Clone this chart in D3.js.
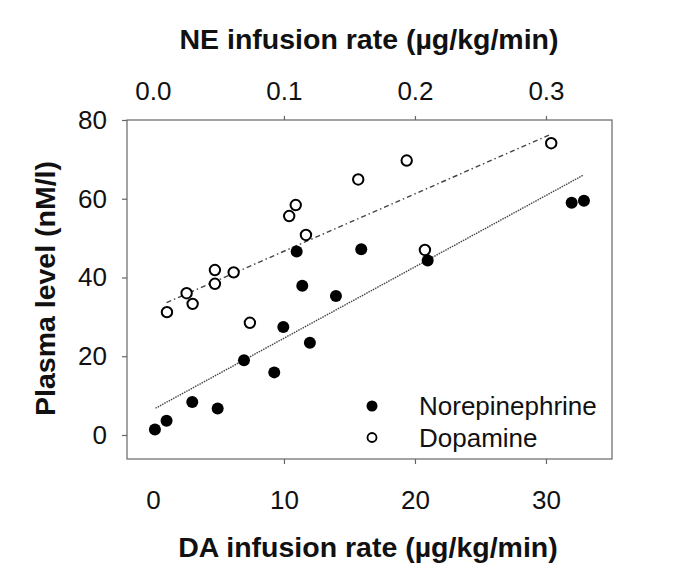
<!DOCTYPE html>
<html>
<head>
<meta charset="utf-8">
<script src="https://cdn.jsdelivr.net/npm/d3@7"></script>
<style>
  html, body { margin: 0; padding: 0; background: #fff; }
  svg { display: block; }
  text { font-family: "Liberation Sans", Arial, sans-serif; fill: #111; }
</style>
</head>
<body>
<svg id="chart" width="685" height="583"></svg>
<script>
// ---- data ----
const neRate = [0.15, 1.04, 3.0, 4.94, 6.95, 9.26, 9.95, 11.98, 11.4, 13.97, 10.97, 15.9, 20.97, 31.96, 32.9];
const neLevel = [1.4, 3.6, 8.4, 6.7, 19.0, 15.9, 27.4, 23.4, 37.9, 35.3, 46.6, 47.2, 44.3, 59.0, 59.5];
const daRate = [1.07, 2.57, 3.03, 4.73, 4.73, 6.16, 7.4, 10.4, 10.9, 11.68, 15.67, 19.37, 20.76, 30.4];
const daLevel = [31.2, 36.0, 33.3, 38.4, 41.9, 41.3, 28.5, 55.6, 58.4, 50.8, 64.9, 69.7, 47.0, 74.1];
// fitted regression lines (endpoints as drawn)
const neFitX = [0.2, 32.85];
const neFitY = [6.8, 66.0];
const daFitX = [1.04, 30.25];
const daFitY = [33.6, 76.2];
// ticks
const bottomTicks = [0, 10, 20, 30];
const topTicks = [0.0, 0.1, 0.2, 0.3];
const yTicks = [0, 20, 40, 60, 80];
const seriesNames = ["Norepinephrine", "Dopamine"];

// ---- layout ----
const L = 127, R = 612, T = 120, B = 459;
const svg = d3.select("#chart");
const x = d3.scaleLinear().domain([-1.98, 35.04]).range([L, R]);
const xTop = d3.scaleLinear().domain([-0.0198, 0.3504]).range([L, R]);
const y = d3.scaleLinear().domain([-6.1, 80]).range([B, T]);

const frameColor = "#666";

// frame
svg.append("rect").attr("x", L).attr("y", T).attr("width", R - L).attr("height", B - T)
  .attr("fill", "none").attr("stroke", frameColor).attr("stroke-width", 1.2);

// left axis
const gy = svg.append("g").attr("transform", `translate(${L},0)`)
  .call(d3.axisLeft(y).tickValues(yTicks).tickSize(5).tickPadding(15).tickFormat(d3.format("d")));
// bottom axis
const gx = svg.append("g").attr("transform", `translate(0,${B})`)
  .call(d3.axisBottom(x).tickValues(bottomTicks).tickSize(5).tickPadding(27).tickFormat(d3.format("d")));
// top axis
const gt = svg.append("g").attr("transform", `translate(0,${T})`)
  .call(d3.axisTop(xTop).tickValues(topTicks).tickSize(4).tickPadding(16).tickFormat(d3.format(".1f")));

[gy, gx, gt].forEach(g => {
  g.select(".domain").remove();
  g.selectAll(".tick line").attr("stroke", frameColor).attr("stroke-width", 1.2);
  g.selectAll(".tick text").attr("font-size", 26).attr("fill", "#111")
    .style("font-family", '"Liberation Sans", Arial, sans-serif');
});
// no tick mark at zero on x axes
gx.selectAll(".tick").filter(d => d === 0).select("line").remove();
gt.selectAll(".tick").filter(d => d === 0).select("line").remove();

// regression lines
const line = d3.line().x(d => x(d[0])).y(d => y(d[1]));
svg.append("path").datum(d3.zip(neFitX, neFitY)).attr("d", line)
  .attr("fill", "none").attr("stroke", "#444").attr("stroke-width", 1.4)
  .attr("stroke-dasharray", "1.5,1");
svg.append("path").datum(d3.zip(daFitX, daFitY)).attr("d", line)
  .attr("fill", "none").attr("stroke", "#444").attr("stroke-width", 1.4)
  .attr("stroke-dasharray", "5,3,1.5,3");

// points
svg.append("g").selectAll("circle").data(d3.zip(neRate, neLevel)).join("circle")
  .attr("cx", d => x(d[0])).attr("cy", d => y(d[1])).attr("r", 6)
  .attr("fill", "#000");
svg.append("g").selectAll("circle").data(d3.zip(daRate, daLevel)).join("circle")
  .attr("cx", d => x(d[0])).attr("cy", d => y(d[1])).attr("r", 5.2)
  .attr("fill", "#fff").attr("stroke", "#000").attr("stroke-width", 2);

// legend
const lg = svg.append("g");
lg.append("circle").attr("cx", 372).attr("cy", 406).attr("r", 5.5).attr("fill", "#000");
lg.append("circle").attr("cx", 372).attr("cy", 437.5).attr("r", 4.5)
  .attr("fill", "#fff").attr("stroke", "#000").attr("stroke-width", 1.8);
lg.append("text").attr("x", 419).attr("y", 415).attr("font-size", 26).text(seriesNames[0]);
lg.append("text").attr("x", 419).attr("y", 446.7).attr("font-size", 26).text(seriesNames[1]);

// titles
svg.append("text").attr("x", 369).attr("y", 48.5).attr("text-anchor", "middle")
  .attr("font-size", 28.5).attr("font-weight", "bold").text("NE infusion rate (\u00b5g/kg/min)");
svg.append("text").attr("x", 368).attr("y", 556.7).attr("text-anchor", "middle")
  .attr("font-size", 28.5).attr("font-weight", "bold").text("DA infusion rate (\u00b5g/kg/min)");
svg.append("text").attr("transform", "translate(55,288.5) rotate(-90)").attr("text-anchor", "middle")
  .attr("font-size", 28.5).attr("font-weight", "bold").text("Plasma level (nM/l)");
</script>
</body>
</html>
